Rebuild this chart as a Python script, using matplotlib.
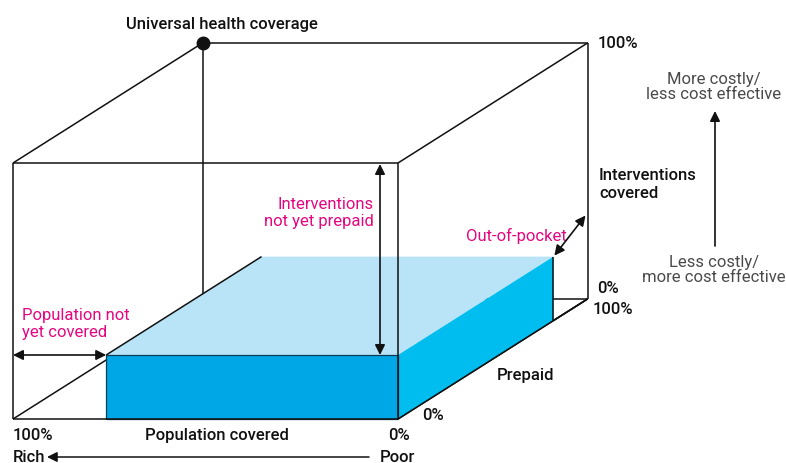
import matplotlib
matplotlib.use("Agg")
import matplotlib.pyplot as plt
from matplotlib.patches import Polygon

plt.rcParams['font.family'] = ['Roboto', 'DejaVu Sans']

# ---- diagram data (fractions of each dimension) ----
population_covered = 0.758      # share of population covered (from the right, poor side)
interventions_covered = 0.25    # share of interventions covered
prepaid_share = 0.82            # share of cost prepaid (depth)

axis_labels = ["Population covered", "Prepaid", "Interventions\ncovered"]
tick_labels = {"pop_left": "100%", "pop_right": "0%",
               "prep_front": "0%", "prep_back": "100%",
               "int_bottom": "0%", "int_top": "100%"}

# ---- projection geometry (pixels) ----
X0, Y0 = 13, 420      # front-bottom-left corner
W, H = 385, 256       # front face width/height
DX, DY = 189.5, -120  # depth vector


def P(x, y, z):
    """x: 0..1 left->right, y: 0..1 bottom->top, z: 0..1 front->back"""
    return (X0 + x * W + z * DX, Y0 - y * H + z * DY)


fig = plt.figure(figsize=(7.86, 4.64), dpi=100)
ax = fig.add_axes([0, 0, 1, 1])
ax.set_xlim(0, 786)
ax.set_ylim(464, 0)
ax.axis('off')

LW = 1.1
K = '#111111'


def line(a, b, z=2, lw=LW, c=K):
    ax.plot([a[0], b[0]], [a[1], b[1]], color=c, lw=lw, zorder=z, solid_capstyle='butt')


# back / hidden cube edges (drawn under the box)
line(P(0, 1, 0), P(0, 1, 1))
line(P(0, 1, 1), P(1, 1, 1))
line(P(1, 1, 1), P(1, 0, 1))
line(P(0, 1, 1), P(0, 0, 1))
line(P(0, 0, 1), P(1, 0, 1))
line(P(0, 0, 0), P(0, 0, 1))
line(P(1, 1, 0), P(1, 1, 1))
line(P(1, 0, 0), P(1, 0, 1))

# covered box
bx0 = 1 - population_covered
iy = interventions_covered
pz = prepaid_share
front = [P(bx0, 0, 0), P(1, 0, 0), P(1, iy, 0), P(bx0, iy, 0)]
top = [P(bx0, iy, 0), P(1, iy, 0), P(1, iy, pz), P(bx0, iy, pz)]
side = [P(1, 0, 0), P(1, 0, pz), P(1, iy, pz), P(1, iy, 0)]
ax.add_patch(Polygon(top, closed=True, fc='#b9e4f8', ec='none', zorder=3))
ax.add_patch(Polygon(side, closed=True, fc='#00bdf0', ec='none', zorder=3))
ax.add_patch(Polygon(front, closed=True, fc='#00a7e7', ec='#0b3c55', lw=0.9, zorder=4))
line(P(bx0, iy, 0), P(bx0, iy, pz), z=5)
line(P(1, 0, pz), P(1, iy, pz), z=5)
line(P(1, 0, pz), P(1, 0, 1), z=5)

# front cube edges
line(P(0, 0, 0), P(1, 0, 0), z=6)
line(P(0, 0, 0), P(0, 1, 0), z=6)
line(P(0, 1, 0), P(1, 1, 0), z=6)
line(P(1, 0, 0), P(1, 1, 0), z=6)
line(P(1, 0, 0), P(1, 0, 1), z=6)

# UHC point
ux, uy = P(0, 1, 1)
ax.plot([ux], [uy], 'o', color=K, ms=9, zorder=7)

PINK = '#e5077f'
GRAY = '#4a4a4a'
FS = 12
FSB = 10.6

ax.text(ux + 19, uy - 20, "Universal health coverage", ha='center', va='center',
        fontsize=FS, color=K, fontweight='medium')

def darrow(a, b, z=8, style='<|-|>'):
    ax.annotate('', xy=b, xytext=a,
                arrowprops=dict(arrowstyle=style + ',head_length=0.6,head_width=0.3',
                                color=K, lw=1.2, shrinkA=0, shrinkB=0), zorder=z)

# Interventions not yet prepaid
ax_x = 380
darrow((ax_x, P(0, iy, 0)[1]), (ax_x, P(0, 1, 0)[1] + 1))
ax.text(374, 213, "Interventions\nnot yet prepaid", ha='right', va='center',
        fontsize=FS, color=PINK, linespacing=1.1)

# Population not yet covered
darrow(P(0, iy, 0), P(bx0, iy, 0))
ax.text(22, 324, "Population not\nyet covered", ha='left', va='center',
        fontsize=FS, color=PINK, linespacing=1.1)

# Out-of-pocket
a = P(1, iy, pz)
b = P(1, iy + 0.08, 1)
darrow((a[0] + 1, a[1] - 1), (b[0] - 2, b[1] + 1))
ax.text(567, 236, "Out-of-pocket", ha='right', va='center', fontsize=FS, color=PINK)

# box label
fx = (P(bx0, 0, 0)[0] + P(1, 0, 0)[0]) / 2
ax.text(fx, 389, "Interventions towards convergence", ha='center', va='center',
        fontsize=FSB, color=K, fontweight='bold')

# tick labels / axis labels
ax.text(598, 44, tick_labels["int_top"], ha='left', va='center', fontsize=FS, color=K, fontweight='medium')
ax.text(599, 185, axis_labels[2], ha='left', va='center', fontsize=FS, color=K,
        fontweight='medium', linespacing=1.25)
ax.text(597, 289, tick_labels["int_bottom"], ha='left', va='center', fontsize=FS, color=K, fontweight='medium')
ax.text(593, 310, tick_labels["prep_back"], ha='left', va='center', fontsize=FS, color=K, fontweight='medium')
ax.text(497, 376, axis_labels[1], ha='left', va='center', fontsize=FS, color=K, fontweight='medium')
ax.text(422, 416, tick_labels["prep_front"], ha='left', va='center', fontsize=FS, color=K, fontweight='medium')
ax.text(388, 436, tick_labels["pop_right"], ha='left', va='center', fontsize=FS, color=K, fontweight='medium')
ax.text(13, 436, tick_labels["pop_left"], ha='left', va='center', fontsize=FS, color=K, fontweight='medium')
ax.text(217, 436, axis_labels[0], ha='center', va='center', fontsize=FS, color=K, fontweight='medium')
ax.text(13, 458, "Rich", ha='left', va='center', fontsize=FS, color=K, fontweight='medium')
ax.text(380, 458, "Poor", ha='left', va='center', fontsize=FS, color=K, fontweight='medium')
ax.annotate('', xy=(47, 458), xytext=(369, 458),
            arrowprops=dict(arrowstyle='-|>,head_length=0.6,head_width=0.3', color=K, lw=1.1,
                            shrinkA=0, shrinkB=0))

# cost-effectiveness arrow
ax.annotate('', xy=(715, 112), xytext=(715, 247),
            arrowprops=dict(arrowstyle='-|>,head_length=0.6,head_width=0.3', color=K, lw=1.2,
                            shrinkA=0, shrinkB=0))
ax.text(714, 87, "More costly/\nless cost effective", ha='center', va='center',
        fontsize=FS, color=GRAY, fontweight='normal', linespacing=1.05)
ax.text(714, 270, "Less costly/\nmore cost effective", ha='center', va='center',
        fontsize=FS, color=GRAY, fontweight='normal', linespacing=1.05)

fig.savefig("out.png", dpi=100)
